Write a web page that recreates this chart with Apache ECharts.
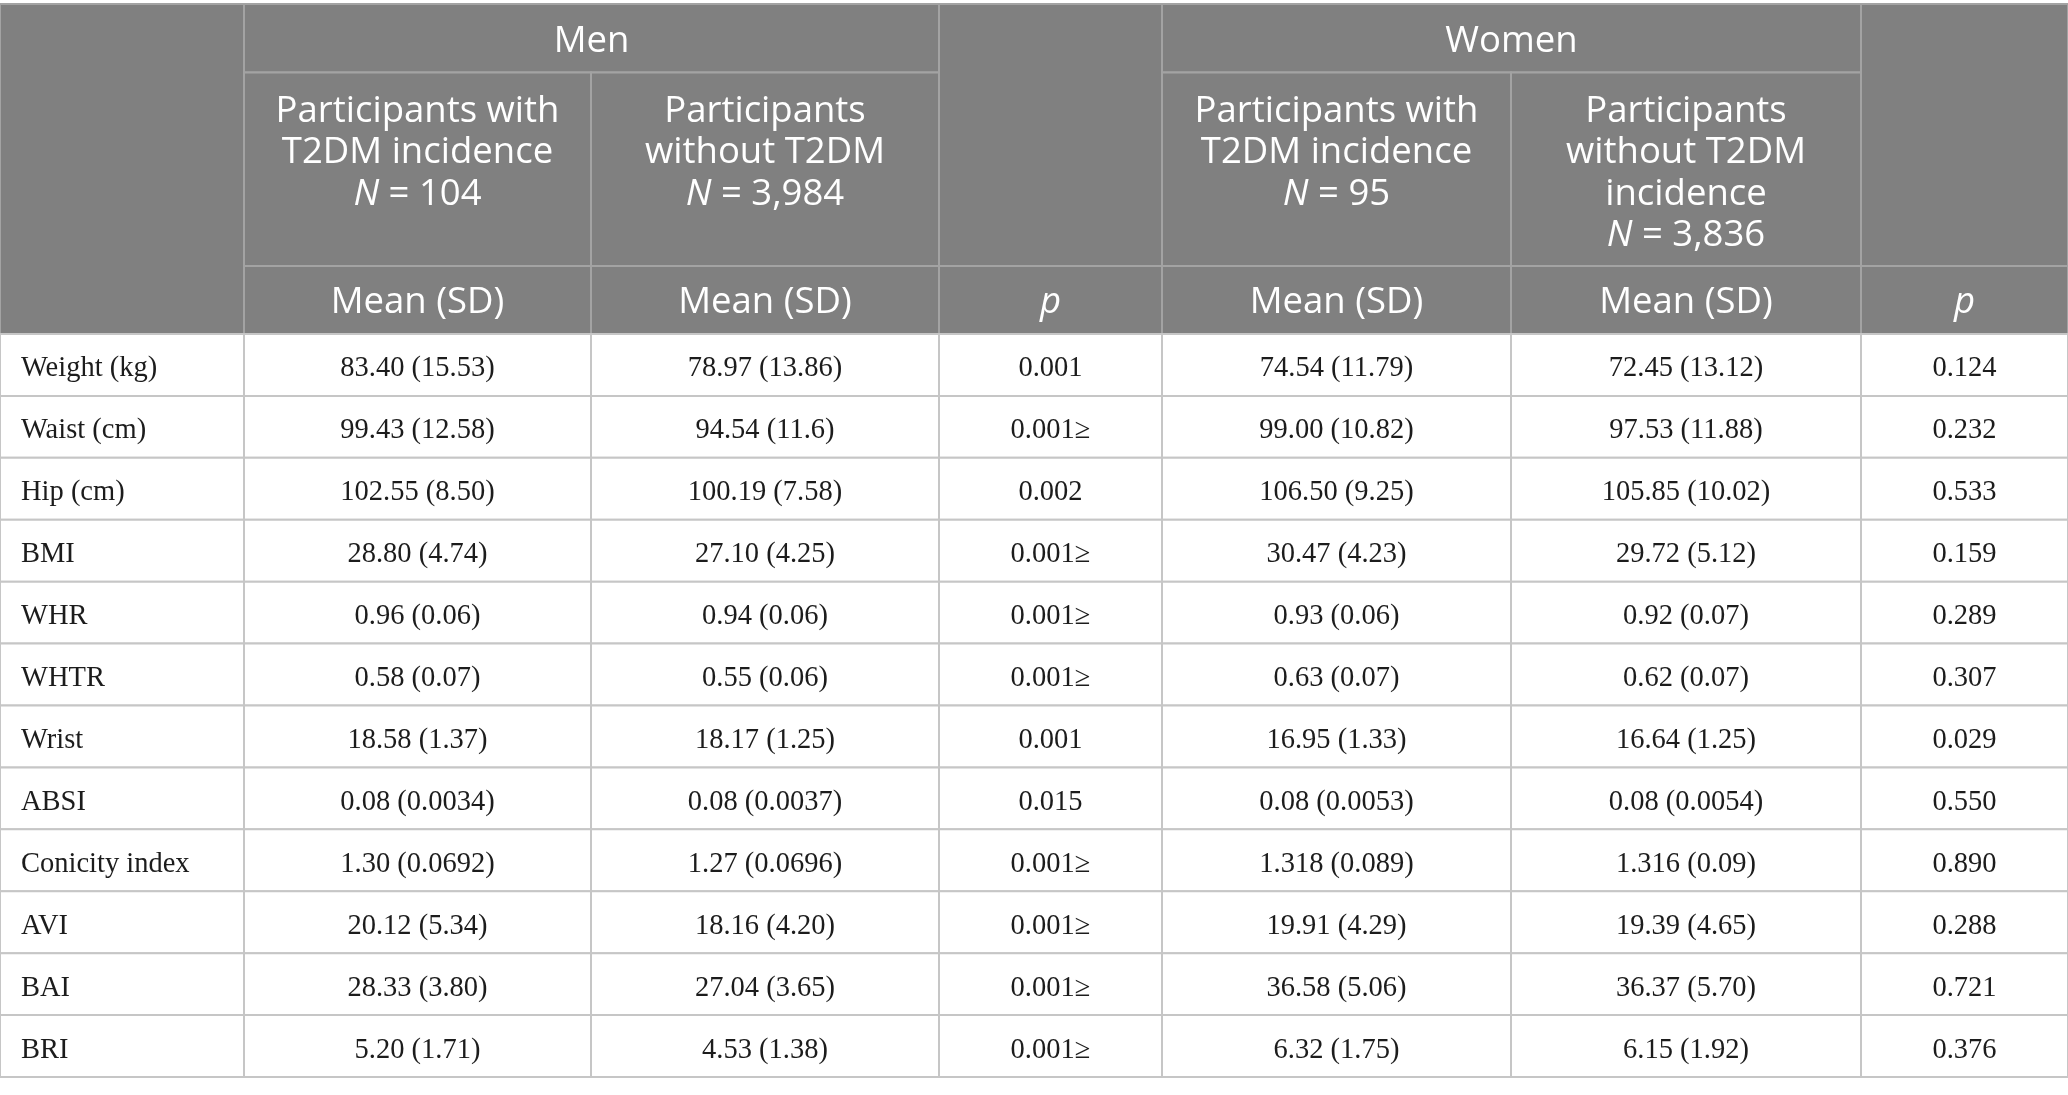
<!DOCTYPE html>
<html><head><meta charset="utf-8">
<script src="https://cdn.jsdelivr.net/npm/echarts@6/dist/echarts.min.js"></script>
<style>html,body{margin:0;padding:0;background:#fff}#c{width:2068px;height:1095px}</style>
</head><body><div id="c"></div>
<script>
// ---- table content ----
const indicators = ['Weight (kg)','Waist (cm)','Hip (cm)','BMI','WHR','WHTR','Wrist','ABSI','Conicity index','AVI','BAI','BRI'];
const menWith = ['83.40 (15.53)','99.43 (12.58)','102.55 (8.50)','28.80 (4.74)','0.96 (0.06)','0.58 (0.07)','18.58 (1.37)','0.08 (0.0034)','1.30 (0.0692)','20.12 (5.34)','28.33 (3.80)','5.20 (1.71)'];
const menWithout = ['78.97 (13.86)','94.54 (11.6)','100.19 (7.58)','27.10 (4.25)','0.94 (0.06)','0.55 (0.06)','18.17 (1.25)','0.08 (0.0037)','1.27 (0.0696)','18.16 (4.20)','27.04 (3.65)','4.53 (1.38)'];
const menP = ['0.001','0.001≥','0.002','0.001≥','0.001≥','0.001≥','0.001','0.015','0.001≥','0.001≥','0.001≥','0.001≥'];
const womenWith = ['74.54 (11.79)','99.00 (10.82)','106.50 (9.25)','30.47 (4.23)','0.93 (0.06)','0.63 (0.07)','16.95 (1.33)','0.08 (0.0053)','1.318 (0.089)','19.91 (4.29)','36.58 (5.06)','6.32 (1.75)'];
const womenWithout = ['72.45 (13.12)','97.53 (11.88)','105.85 (10.02)','29.72 (5.12)','0.92 (0.07)','0.62 (0.07)','16.64 (1.25)','0.08 (0.0054)','1.316 (0.09)','19.39 (4.65)','36.37 (5.70)','6.15 (1.92)'];
const womenP = ['0.124','0.232','0.533','0.159','0.289','0.307','0.029','0.550','0.890','0.288','0.721','0.376'];

const groupHeaders = ['Men','Women'];
const subHeaders = [
  'Participants with\nT2DM incidence\n{i|N} = 104',
  'Participants\nwithout T2DM\n{i|N} = 3,984',
  'Participants with\nT2DM incidence\n{i|N} = 95',
  'Participants\nwithout T2DM\nincidence\n{i|N} = 3,836'
];
const statHeader = 'Mean (SD)';
const pHeader = '{i|p}';

// ---- layout (pixels) ----
const colEdges = [0,244,591,939,1162,1511,1861,2068];
const hRows = [4,72.5,266,334];
const bodyBottom = 1077;

const bodyCols = [indicators, menWith, menWithout, menP, womenWith, womenWithout, womenP];

const HEAD_BG = '#808080', HEAD_LINE = '#a3a3a3', BODY_LINE = '#c6c6c6';
const HFONT = '"Open Sans", "Noto Sans", sans-serif', HSIZE = 36.5, HLH = 41.5;
const BFONT = '"Liberation Serif", "DejaVu Serif", serif', BSIZE = 28.5;

// header cells: [col0, col1, row0, row1, text, valign]
const headerCells = [
  [0,1,0,3,'', 'middle'],
  [1,3,0,1,groupHeaders[0],'middle'],
  [1,2,1,2,subHeaders[0],'top'],
  [2,3,1,2,subHeaders[1],'top'],
  [1,2,2,3,statHeader,'middle'],
  [2,3,2,3,statHeader,'middle'],
  [3,4,0,2,'','middle'],
  [3,4,2,3,pHeader,'middle'],
  [4,6,0,1,groupHeaders[1],'middle'],
  [4,5,1,2,subHeaders[2],'top'],
  [5,6,1,2,subHeaders[3],'top'],
  [4,5,2,3,statHeader,'middle'],
  [5,6,2,3,statHeader,'middle'],
  [6,7,0,2,'','middle'],
  [6,7,2,3,pHeader,'middle']
];

const headerData = headerCells.map(c => [colEdges[c[0]], colEdges[c[1]], hRows[c[2]], hRows[c[3]]]);

const bodyData = [];
indicators.forEach((name, r) => {
  bodyCols.forEach((col, c) => {
    bodyData.push([colEdges[c], colEdges[c+1], name, c]);
  });
});

const chart = echarts.init(document.getElementById('c'), null, {renderer:'canvas'});
chart.setOption({
  backgroundColor: '#ffffff',
  animation: false,
  grid: [
    {left:0, right:0, top:0, height:hRows[3]},
    {left:0, right:0, top:hRows[3], bottom:1095-bodyBottom}
  ],
  xAxis: [
    {type:'value', gridIndex:0, min:0, max:2068, show:false},
    {type:'value', gridIndex:1, min:0, max:2068, show:false}
  ],
  yAxis: [
    {type:'value', gridIndex:0, min:0, max:hRows[3], inverse:true, show:false},
    {type:'category', gridIndex:1, data:indicators, inverse:true, show:false}
  ],
  series: [
    {
      type:'custom', xAxisIndex:0, yAxisIndex:0, silent:true, clip:false,
      data: headerData,
      renderItem: function(params, api){
        const cell = headerCells[params.dataIndex];
        const p0 = api.coord([api.value(0), api.value(2)]);
        const p1 = api.coord([api.value(1), api.value(3)]);
        const cx = (p0[0]+p1[0])/2;
        const top = cell[5] === 'top';
        return {type:'group', children:[
          {type:'rect', shape:{x:p0[0], y:p0[1], width:p1[0]-p0[0], height:p1[1]-p0[1]},
           style:{fill:HEAD_BG, stroke:HEAD_LINE, lineWidth:2}},
          {type:'text', style:{
            text: cell[4], x: cx, y: top ? p0[1]+18 : (p0[1]+p1[1])/2 + 3,
            align:'center', verticalAlign: top ? 'top' : 'middle',
            fill:'#ffffff', fontFamily:HFONT, fontSize:HSIZE, lineHeight:HLH,
            rich:{i:{fontStyle:'italic', fontFamily:HFONT, fontSize:HSIZE, lineHeight:HLH, fill:'#ffffff'}}
          }}
        ]};
      }
    },
    {
      type:'custom', xAxisIndex:1, yAxisIndex:1, silent:true, clip:false,
      data: bodyData,
      renderItem: function(params, api){
        const d = bodyData[params.dataIndex];
        const c = d[3];
        const r = Math.floor(params.dataIndex / bodyCols.length);
        const p0 = api.coord([d[0], r]);
        const p1 = api.coord([d[1], r]);
        const h = api.size([0,1])[1];
        const y0 = p0[1] - h/2;
        const text = bodyCols[c][r];
        return {type:'group', children:[
          {type:'rect', shape:{x:p0[0], y:y0, width:p1[0]-p0[0], height:h},
           style:{fill:'#ffffff', stroke:BODY_LINE, lineWidth:2}},
          {type:'text', style:{
            text:text, x: c===0 ? p0[0]+21 : (p0[0]+p1[0])/2, y:p0[1]+4,
            align: c===0 ? 'left' : 'center', verticalAlign:'middle',
            fill:'#1c1c1c', fontFamily:BFONT, fontSize:BSIZE
          }}
        ]};
      }
    }
  ]
});
</script></body></html>
